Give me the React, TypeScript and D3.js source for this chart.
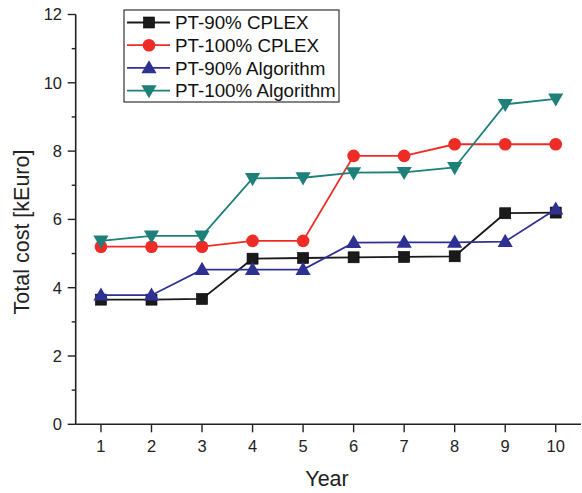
import React from "react";
import * as d3 from "d3";

const years = [1, 2, 3, 4, 5, 6, 7, 8, 9, 10];
const pt90Cplex = [3.65, 3.65, 3.67, 4.85, 4.87, 4.89, 4.9, 4.92, 6.18, 6.2];
const pt100Cplex = [5.2, 5.2, 5.2, 5.37, 5.37, 7.86, 7.86, 8.2, 8.2, 8.2];
const pt90Algo = [3.78, 3.78, 4.53, 4.53, 4.53, 5.32, 5.33, 5.33, 5.35, 6.3];
const pt100Algo = [5.37, 5.52, 5.52, 7.2, 7.22, 7.37, 7.38, 7.52, 9.37, 9.53];
const yTicks = [0, 2, 4, 6, 8, 10, 12];
const yMinorTicks = [1, 3, 5, 7, 9, 11];

type Series = { name: string; values: number[]; color: string; marker: string };

const series: Series[] = [
  { name: "PT-90% CPLEX", values: pt90Cplex, color: "#1a1a1a", marker: "square" },
  { name: "PT-100% CPLEX", values: pt100Cplex, color: "#ee2b24", marker: "circle" },
  { name: "PT-90% Algorithm", values: pt90Algo, color: "#2e3192", marker: "triangle" },
  { name: "PT-100% Algorithm", values: pt100Algo, color: "#1d8079", marker: "triangleDown" },
];

const W = 582;
const H = 493;
const left = 75.7;
const right = 581;
const top = 14.5;
const bottom = 424.3;
const font = "'Liberation Sans', Arial, Helvetica, sans-serif";

const x = d3.scaleLinear().domain([0.5, 10.5]).range([left, right]);
const y = d3.scaleLinear().domain([0, 12]).range([bottom, top]);

function Marker({ kind, cx, cy, color }: { kind: string; cx: number; cy: number; color: string }) {
  if (kind === "square") {
    return <rect x={cx - 5.5} y={cy - 5.5} width={11} height={11} fill={color} stroke="#000" strokeWidth={0.6} />;
  }
  if (kind === "circle") {
    return <circle cx={cx} cy={cy} r={6.3} fill={color} />;
  }
  const sym = d3.symbol().type(d3.symbolTriangle).size(100)();
  const rot = kind === "triangleDown" ? 180 : 0;
  const dy = kind === "triangleDown" ? -1 : 1;
  return <path d={sym || ""} transform={`translate(${cx},${cy + dy}) rotate(${rot})`} fill={color} />;
}

export default function App() {
  const line = d3
    .line<number>()
    .x((_, i) => x(years[i]))
    .y((v) => y(v));

  return (
    <svg width={W} height={H} style={{ position: "absolute", left: 0, top: 0, background: "#fff" }} fontFamily={font}>
      {/* axes */}
      <line x1={left} x2={left} y1={top} y2={bottom} stroke="#222" strokeWidth={1.6} />
      <line x1={left} x2={right} y1={bottom} y2={bottom} stroke="#222" strokeWidth={1.6} />
      {yTicks.map((t) => (
        <g key={"y" + t}>
          <line x1={left - 8} x2={left} y1={y(t)} y2={y(t)} stroke="#222" strokeWidth={1.4} />
          <text x={62} y={y(t)} dy="0.36em" textAnchor="end" fontSize={16.5} fill="#222">
            {t}
          </text>
        </g>
      ))}
      {yMinorTicks.map((t) => (
        <line key={"ym" + t} x1={left - 4} x2={left} y1={y(t)} y2={y(t)} stroke="#222" strokeWidth={1.4} />
      ))}
      {years.map((t) => (
        <g key={"x" + t}>
          <line x1={x(t)} x2={x(t)} y1={bottom} y2={bottom + 8} stroke="#222" strokeWidth={1.4} />
          <text x={x(t)} y={452} textAnchor="middle" fontSize={16.5} fill="#222">
            {t}
          </text>
        </g>
      ))}
      <text x={327} y={486} textAnchor="middle" fontSize={21.5} fill="#222">
        Year
      </text>
      <text
        transform="translate(29,232) rotate(-90)"
        textAnchor="middle"
        fontSize={21.5}
        fill="#222"
      >
        Total cost [kEuro]
      </text>

      {/* series */}
      {series.map((s) => (
        <g key={s.name}>
          <path d={line(s.values) || ""} fill="none" stroke={s.color} strokeWidth={1.8} />
          {s.values.map((v, i) => (
            <Marker key={i} kind={s.marker} cx={x(years[i])} cy={y(v)} color={s.color} />
          ))}
        </g>
      ))}

      {/* legend */}
      <rect x={124} y={10} width={215} height={92} fill="#fff" stroke="#333" strokeWidth={1.2} />
      {series.map((s, i) => {
        const ly = 22.5 + i * 22.7;
        return (
          <g key={"lg" + s.name}>
            <line x1={127} x2={170} y1={ly} y2={ly} stroke={s.color} strokeWidth={1.8} />
            <Marker kind={s.marker} cx={149} cy={ly} color={s.color} />
            <text x={175} y={ly} dy="0.36em" fontSize={18.8} fill="#111">
              {s.name}
            </text>
          </g>
        );
      })}
    </svg>
  );
}
